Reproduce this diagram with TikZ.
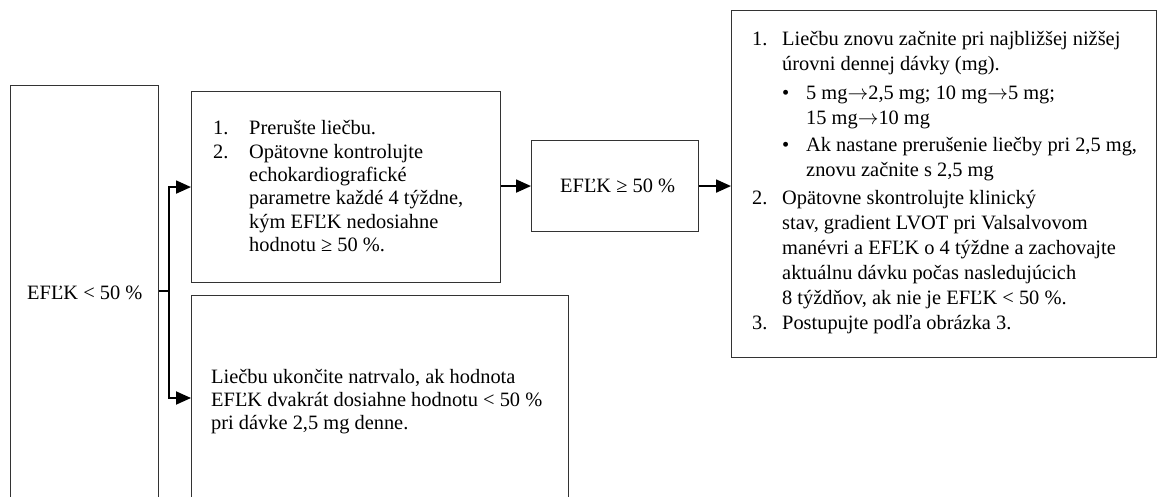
\documentclass[tikz,border=0pt]{standalone}
\usepackage{fontspec}
\setmainfont{Liberation Serif}
\usetikzlibrary{arrows.meta,calc}

% list helpers: a numbered/bulleted first line and an indented continuation line
\newcommand\numline[3]{\noindent\makebox[#1][l]{#2}#3\par}
\newcommand\contline[2]{\noindent\hspace*{#1}#2\par}
\newcommand\bulline[4]{\noindent\hspace*{#1}\makebox[#2][l]{\textbullet}#3#4\par}
% dose step arrow
\newcommand\dto{$\mathord{\rightarrow}$}

\tikzset{
  frame/.style={draw=black!80, line width=1.1pt, fill=none, inner sep=0pt, anchor=north west},
  conn/.style={draw=black, line width=1.9pt, -{Triangle[length=15pt,width=13pt]}},
  link/.style={draw=black, line width=1.9pt},
  txt/.style={inner sep=0pt, anchor=base west},
  body/.style={font=\fontsize{20.4pt}{23.3pt}\selectfont},
}

\begin{document}
\begin{tikzpicture}[x=1pt,y=-1pt]
\useasboundingbox (0,0) rectangle (1157,497);
\begin{scope}
\clip (0,0) rectangle (1157,497);

% boxes
\node[frame, minimum width=148pt, minimum height=430pt] (left) at (10,85) {};
\node[frame, minimum width=309pt, minimum height=191pt] (stop) at (191,91) {};
\node[frame, minimum width=377pt, minimum height=220pt] (end) at (191,295) {};
\node[frame, minimum width=167pt, minimum height=91pt] (ok) at (531,140) {};
\node[frame, minimum width=425pt, minimum height=347pt] (resume) at (731,10) {};

% texts
\node[txt, body] (lefttxt) at (27,299) {EFĽK < 50 \%};
\node[txt, body] (oktxt) at (560,193) {EFĽK ≥ 50 \%};

\node[txt, body] (stoptxt) at (213,135) {\parbox[t]{280pt}{\fontsize{20.4pt}{23.3pt}\selectfont
\numline{36pt}{1.}{Prerušte liečbu.}
\numline{36pt}{2.}{Opätovne kontrolujte}
\contline{36pt}{echokardiografické}
\contline{36pt}{parametre každé 4 týždne,}
\contline{36pt}{kým EFĽK nedosiahne}
\contline{36pt}{hodnotu ≥ 50 \%.}}};

\node[txt, body] (endtxt) at (211,383) {\parbox[t]{350pt}{\fontsize{20.4pt}{23pt}\selectfont
\contline{0pt}{Liečbu ukončite natrvalo, ak hodnota}
\contline{0pt}{EFĽK dvakrát dosiahne hodnotu < 50 \%}
\contline{0pt}{pri dávke 2,5 mg denne.}}};

\node[txt, body] (resumetxt) at (752,46) {\parbox[t]{400pt}{\fontsize{20.4pt}{25pt}\selectfont
\numline{30pt}{1.}{Liečbu znovu začnite pri najbližšej nižšej}
\contline{30pt}{úrovni dennej dávky (mg).}
\vspace{4pt}
\bulline{30pt}{24pt}{}{5 mg\dto2,5 mg; 10 mg\dto5 mg;}
\contline{54pt}{15 mg\dto10 mg}
\vspace{2pt}
\bulline{30pt}{24pt}{}{Ak nastane prerušenie liečby pri 2,5 mg,}
\contline{54pt}{znovu začnite s 2,5 mg}
\vspace{3pt}
\numline{30pt}{2.}{Opätovne skontrolujte klinický}
\contline{30pt}{stav, gradient LVOT pri Valsalvovom}
\contline{30pt}{manévri a EFĽK o 4 týždne a zachovajte}
\contline{30pt}{aktuálnu dávku počas nasledujúcich}
\contline{30pt}{8 týždňov, ak nie je EFĽK < 50 \%.}
\numline{30pt}{3.}{Postupujte podľa obrázka 3.}}};

% connectors
\coordinate (split) at (169,291);
\coordinate (endin) at (191,398);
\draw[link] (left.east |- split) -- (split);
\draw[conn] (split) |- (stop.west);
\draw[conn] (split) |- (endin);
\draw[conn] (stop.east |- ok.west) -- (ok.west);
\draw[conn] (ok.east) -- (ok.east -| resume.west);
\end{scope}
\end{tikzpicture}
\end{document}
